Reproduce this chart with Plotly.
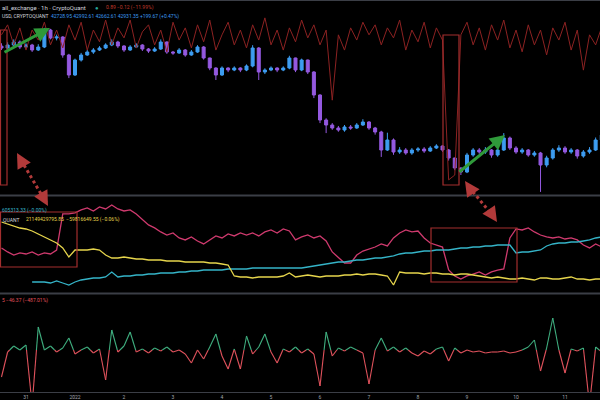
import pandas as pd
import plotly.graph_objects as go

# ---------------- data (3-hourly samples, 2021-12-30 12:00 .. 2022-01-11 18:00) ----------------
start_time = "2021-12-30 12:00"
n_points = 99

btc_close = [47004, 47160, 47316, 47056, 47160, 46900, 47056, 47940, 47524, 47576,
             46640, 45600, 46380, 46640, 46796, 46900, 47004, 47160, 47316, 47108,
             46900, 47056, 47160, 46952, 46848, 46952, 47316, 46796, 46744, 46900,
             46640, 46796, 47056, 46484, 45964, 45600, 45964, 45860, 45964, 45860,
             46068, 47004, 45756, 45860, 45964, 45860, 45964, 46484, 45860, 46380,
             45756, 44560, 43260, 43000, 42844, 42740, 42896, 42844, 43000, 43156,
             42844, 42636, 41700, 42220, 41596, 41700, 41544, 41700, 41752, 41648,
             41804, 41908, 41700, 41284, 40764, 40556, 41440, 41700, 41596, 41700,
             41440, 41700, 42324, 41804, 41596, 41700, 41440, 41544, 40920, 41284,
             41700, 41804, 41596, 41700, 41388, 41596, 41700, 42220, 42480]
btc_first_open = 47100
btc_high = [47250, 47300, 47450, 47400, 47250, 47220, 47200, 48050, 48000, 47700,
            47620, 46700, 46450, 46750, 46900, 47000, 47100, 47250, 47450, 47380,
            47150, 47150, 47250, 47200, 47000, 47050, 47450, 47350, 46850, 47000,
            46950, 46900, 47150, 47100, 46500, 46000, 46050, 46000, 46050, 46000,
            46150, 47150, 47050, 45950, 46050, 46000, 46050, 46600, 46500, 46450,
            46400, 45800, 44600, 43350, 43100, 42950, 43000, 43000, 43100, 43300,
            43200, 42900, 42700, 42600, 42300, 41850, 41800, 41800, 41850, 41850,
            41900, 42000, 41950, 41750, 41300, 40800, 41550, 41800, 41800, 41850,
            41750, 41800, 42580, 42400, 41900, 41800, 41750, 41650, 41600, 41400,
            41800, 41950, 41900, 41800, 41750, 41700, 41850, 42350, 42600]
btc_low = [46900, 46950, 47100, 46950, 46980, 46800, 46850, 47000, 47450, 47400,
           46500, 45440, 45550, 46300, 46600, 46700, 46850, 46950, 47100, 47000,
           46800, 46850, 47000, 46850, 46750, 46800, 46900, 46700, 46650, 46700,
           46550, 46600, 46750, 46400, 45850, 45340, 45550, 45750, 45800, 45750,
           45800, 46000, 45340, 45650, 45800, 45750, 45800, 45900, 45750, 45800,
           45650, 44400, 43100, 42580, 42750, 42650, 42650, 42750, 42800, 42950,
           42750, 42500, 41340, 41650, 41450, 41500, 41450, 41450, 41600, 41550,
           41600, 41750, 41600, 41150, 40650, 40400, 40500, 41350, 41500, 41500,
           41300, 41350, 41650, 41700, 41500, 41500, 41350, 41350, 39520, 40800,
           41200, 41600, 41500, 41500, 41250, 41300, 41500, 41650, 42150]

exchange_ratio = [0.70, 0.93, 0.47, 0.86, 0.35, 0.81, 0.58, 0.99, 0.47, 0.81,
                  0.40, 0.93, 0.58, 0.99, 0.35, 0.81, 0.54, 1.04, 0.47, 0.86,
                  0.63, 1.04, 0.40, 0.77, 0.93, 0.47, 0.81, 0.31, 0.99, 0.58,
                  0.86, 0.40, 0.93, 0.54, 1.04, 0.35, 0.70, 0.99, 0.47, 0.81,
                  0.40, 0.93, 0.58, 1.09, 0.47, 0.81, 0.35, 0.86, 0.54, 1.04,
                  0.63, 0.93, 0.47, 0.81, -0.80, 0.70, 0.35, 0.86, 0.58, 0.99,
                  0.70, 0.93, 0.47, 0.86, 0.63, 1.04, 0.35, 0.81, 0.54, 0.99,
                  0.40, 0.86, 0.58, -2.63, -2.52, 0.70, 0.99, 0.47, 0.86, 0.35,
                  0.93, 0.58, 1.04, 0.40, 0.81, 0.31, 0.93, 0.47, 0.81, 0.24,
                  0.86, 0.58, 0.99, 0.35, 0.81, -0.11, 0.70, 0.47, 0.88]

pink_index = [45.2, 40.9, 37.6, 39.8, 38.7, 40.9, 37.6, 39.8, 38.7, 43.0,
              81.7, 81.7, 82.8, 86.0, 88.2, 84.9, 89.2, 87.1, 91.4, 87.1,
              84.9, 86.0, 81.7, 75.3, 69.9, 66.7, 62.4, 59.1, 61.3, 55.9,
              53.8, 57.0, 52.7, 49.5, 53.8, 58.1, 55.9, 60.2, 58.1, 61.3,
              59.1, 61.3, 58.1, 62.4, 64.5, 61.3, 65.6, 63.4, 53.8, 57.0,
              59.1, 55.9, 58.1, 52.7, 40.9, 34.4, 29.0, 29.0, 37.6, 41.9,
              44.1, 46.2, 49.5, 47.3, 55.9, 61.3, 64.5, 62.4, 63.4, 55.9,
              50.5, 48.4, 46.2, 21.5, 15.1, 11.8, 15.1, 17.2, 19.4, 16.1,
              19.4, 21.5, 22.6, 55.9, 65.6, 64.5, 66.7, 62.4, 59.1, 57.0,
              55.9, 57.0, 54.8, 55.9, 53.8, 48.4, 45.2, 49.5, 46.2]

cyan_reserve = [None, None, None, None, None, 576280, 576280, 576280, 575630, 576920,
                575630, 574340, 576280, 577570, 578210, 578860, 578860, 579500, 582730, 579500,
                580150, 580150, 580790, 580790, 581440, 581440, 582080, 582080, 582080, 582730,
                582730, 583370, 583370, 584020, 584020, 584020, 584020, 584660, 584660, 584660,
                584660, 585310, 585310, 585310, 585310, 585310, 585310, 585310, 585310, 585310,
                585950, 586600, 587240, 587890, 588530, 589180, 589180, 589820, 590470, 590470,
                591110, 591760, 591760, 592400, 593050, 594340, 594980, 594980, 595630, 596270,
                596270, 596920, 596920, 596920, 597560, 598210, 598210, 598850, 598850, 599500,
                599500, 600140, 600140, 600140, 594980, 595630, 595630, 596270, 596920, 599500,
                600790, 601430, 601430, 602080, 602080, 602720, 603370, 604660, 605310]

yellow_bn = [22.289, 22.249, 22.209, 22.169, 22.149, 22.109, 22.049, 21.989, 21.929, 21.869,
             21.769, 21.589, 21.729, 21.729, 21.729, 21.749, 21.729, 21.629, 21.569, 21.569,
             21.589, 21.569, 21.549, 21.549, 21.529, 21.529, 21.529, 21.509, 21.509, 21.509,
             21.489, 21.489, 21.489, 21.489, 21.469, 21.469, 21.449, 21.429, 21.209, 21.189,
             21.189, 21.169, 21.189, 21.189, 21.189, 21.189, 21.209, 21.269, 21.189, 21.209,
             21.229, 21.209, 21.189, 21.209, 21.209, 21.209, 21.229, 21.229, 21.249, 21.229,
             21.249, 21.249, 21.229, 21.209, 21.029, 21.289, 21.269, 21.269, 21.269, 21.249,
             21.269, 21.269, 21.249, 21.249, 21.229, 21.249, 21.249, 21.229, 21.209, 21.189,
             21.169, 21.189, 21.169, 21.149, 21.149, 21.169, 21.149, 21.129, 21.169, 21.169,
             21.149, 21.149, 21.169, 21.189, 21.149, 21.149, 21.129, 21.149, 21.149]

oscillator = [-108, -8, 16, 0, 20, -220, 92, 0, 16, -8,
              8, 48, -16, 0, 12, -12, 4, -120, 80, -8,
              16, 72, -8, 4, -12, 8, -4, 12, -8, 0,
              -16, -52, 0, -36, 12, 64, -24, -76, 4, -76,
              56, -16, 12, 64, -8, -52, 4, -8, 12, -12,
              4, -16, -144, 72, -24, 8, -4, 12, 0, -12,
              -136, 0, 48, -4, 12, -8, 8, -12, -24, -4,
              -16, 4, 12, -44, 8, -12, 0, -8, -4, -12,
              -8, -8, -4, -12, -8, 0, 12, 40, -84, 8,
              128, 0, -92, 4, -4, 8, -220, 12, -8]

tick_dates = ["2021-12-31", "2022-01-01", "2022-01-02", "2022-01-03", "2022-01-04", "2022-01-05",
              "2022-01-06", "2022-01-07", "2022-01-08", "2022-01-09", "2022-01-10", "2022-01-11"]
tick_labels = ["31", "2022", "2", "3", "4", "5", "6", "7", "8", "9", "10", "11"]

# ---------------- build ----------------
times = pd.date_range(start_time, periods=n_points, freq="3h")
btc_open = [btc_first_open] + btc_close[:-1]

W, H = 600, 392  # plot area in pixels


def PX(p):
    return p / W


def PY(p):
    return 1 - p / H


BLUE = "#3d9cf0"
PURPLE = "#9459e0"
DARKRED = "#8c2222"
PINK = "#cf3a6e"
CYAN = "#35b4c8"
YELLOW = "#e6d54c"
GREEN_OSC = "#3fae7f"
RED_OSC = "#e0525c"
BOX = "#a32e2e"

fig = go.Figure()

fig.add_trace(go.Scatter(x=times, y=exchange_ratio, mode="lines",
                         line=dict(color=DARKRED, width=1), xaxis="x2", yaxis="y4",
                         hoverinfo="skip"))
fig.add_trace(go.Candlestick(x=times, open=btc_open, high=btc_high, low=btc_low, close=btc_close,
                             increasing=dict(line=dict(color=BLUE, width=1), fillcolor=BLUE),
                             decreasing=dict(line=dict(color=PURPLE, width=1), fillcolor=PURPLE),
                             whiskerwidth=0, xaxis="x2", yaxis="y2"))

fig.add_trace(go.Scatter(x=times, y=pink_index, mode="lines", line=dict(color=PINK, width=1.3),
                         xaxis="x3", yaxis="y3"))
fig.add_trace(go.Scatter(x=times, y=cyan_reserve, mode="lines", line=dict(color=CYAN, width=1.3),
                         xaxis="x3", yaxis="y5"))
fig.add_trace(go.Scatter(x=times, y=yellow_bn, mode="lines", line=dict(color=YELLOW, width=1.3),
                         xaxis="x3", yaxis="y6"))

# oscillator coloured by sign
gx, gy, rx, ry = [], [], [], []
for k in range(len(oscillator) - 1):
    t0, t1 = times[k], times[k + 1]
    v0, v1 = oscillator[k], oscillator[k + 1]
    if v0 >= 0 and v1 >= 0:
        gx += [t0, t1, None]; gy += [v0, v1, None]
    elif v0 <= 0 and v1 <= 0:
        rx += [t0, t1, None]; ry += [v0, v1, None]
    else:
        tc = t0 + (t1 - t0) * (v0 / (v0 - v1))
        if v0 > 0:
            gx += [t0, tc, None]; gy += [v0, 0, None]
            rx += [tc, t1, None]; ry += [0, v1, None]
        else:
            rx += [t0, tc, None]; ry += [v0, 0, None]
            gx += [tc, t1, None]; gy += [0, v1, None]
fig.add_trace(go.Scatter(x=rx, y=ry, mode="lines", line=dict(color=RED_OSC, width=1.1),
                         xaxis="x", yaxis="y", connectgaps=False))
fig.add_trace(go.Scatter(x=gx, y=gy, mode="lines", line=dict(color=GREEN_OSC, width=1.1),
                         xaxis="x", yaxis="y", connectgaps=False))

x_range = ["2021-12-30 11:16", "2022-01-11 17:08"]
noax = dict(showgrid=False, zeroline=False, visible=False)

fig.update_layout(
    width=600, height=400, margin=dict(l=0, r=0, t=0, b=8, pad=0, autoexpand=False),
    paper_bgcolor="#000000", plot_bgcolor="#000000", showlegend=False,
    font=dict(family="Roboto, Arial, sans-serif"),
    xaxis=dict(domain=[0, 1], anchor="y", range=x_range, type="date",
               tickvals=tick_dates, ticktext=tick_labels, ticks="", ticklabelstandoff=0,
               tickfont=dict(size=5, color="#a3a6ae"), showgrid=False, zeroline=False,
               showline=True, linecolor="#3b3e46", linewidth=1, automargin=False),
    xaxis2=dict(matches="x", anchor="y2", showticklabels=False, showgrid=False, zeroline=False,
                rangeslider=dict(visible=False)),
    xaxis3=dict(matches="x", anchor="y3", showticklabels=False, showgrid=False, zeroline=False),
    yaxis=dict(domain=[0, 1 - 294 / H], range=[-168, 224], **noax),
    yaxis2=dict(domain=[1 - 195 / H, 1], range=[39360, 49500], **noax),
    yaxis3=dict(domain=[1 - 293 / H, 1 - 196 / H], range=[-3.2, 101], **noax),
    yaxis4=dict(overlaying="y2", anchor="x2", range=[-2.977, 1.5], **noax),
    yaxis5=dict(overlaying="y3", anchor="x3", range=[569180, 631745], **noax),
    yaxis6=dict(overlaying="y3", anchor="x3", range=[20.869, 22.809], **noax),
)

shapes = []
# pane separators
for yp, w in [(0.5, 1), (195.5, 2), (293.5, 2)]:
    shapes.append(dict(type="line", xref="paper", yref="paper", x0=0, x1=1, y0=PY(yp), y1=PY(yp),
                       line=dict(color="#3b3e46", width=w)))
# highlight boxes
for (x0, y0, x1, y1) in [(0.5, 30, 7, 185), (443, 35, 459, 185), (0.5, 212, 77, 267), (431, 228, 517, 282)]:
    shapes.append(dict(type="rect", xref="paper", yref="paper", x0=PX(x0), x1=PX(x1),
                       y0=PY(y1), y1=PY(y0), line=dict(color=BOX, width=1.2)))
# dotted connectors
for (a, b) in [((21, 160), (44, 199)), ((469, 187), (493, 216))]:
    shapes.append(dict(type="line", xref="paper", yref="paper", x0=PX(a[0]), y0=PY(a[1]),
                       x1=PX(b[0]), y1=PY(b[1]), line=dict(color="#b23a3a", width=3, dash="3px,3px")))
fig.update_layout(shapes=shapes)

ann = []
# green arrows
for head, tail in [((50, 28), (3, 53)), ((505, 135), (458, 173))]:
    ann.append(dict(xref="paper", yref="paper", x=PX(head[0]), y=PY(head[1]),
                    ax=tail[0] - head[0], ay=tail[1] - head[1], text="", showarrow=True,
                    arrowhead=2, arrowsize=1, arrowwidth=3, arrowcolor="#2f9a3a", standoff=0))
# red arrow heads of the dotted connectors
for tip, back in [((17, 153), (23, 164)), ((48, 206), (42, 195)), ((465, 181), (471, 190)), ((497, 222), (491, 213))]:
    ann.append(dict(xref="paper", yref="paper", x=PX(tip[0]), y=PY(tip[1]),
                    ax=back[0] - tip[0], ay=back[1] - tip[1], text="", showarrow=True,
                    arrowhead=2, arrowsize=1, arrowwidth=3, arrowcolor="#b23a3a", standoff=0))


def label(px_x, px_y, txt, color, size=5):
    ann.append(dict(xref="paper", yref="paper", x=PX(px_x), y=PY(px_y), text=txt, showarrow=False,
                    xanchor="left", yanchor="middle", font=dict(size=size, color=color)))


label(0, 7, "all_exchange · 1h · CryptoQuant", "#d1d4dc", 6)
label(93, 7, "●", "#26a69a", 6)
label(104, 7, "0.89 −0.12 (−11.99%)", "#c0392b", 5)
label(0, 16, "USD, CRYPTOQUANT", "#d1d4dc", 5)
label(49, 16, "42728.95 42992.61 42662.61 42931.35 +199.67 (+0.47%)", BLUE, 5)
label(0, 211, "605313.33 (−0.00%)", CYAN, 5)
label(1, 220, "QUANT", "#d1d4dc", 5)
label(24, 220, "21149429795.85  −59816649.55 (−0.06%)", YELLOW, 5)
label(0, 300, "5 −46.37 (−487.01%)", RED_OSC, 5)
fig.update_layout(annotations=ann)

fig.write_html("out.html", config={"displayModeBar": False},
               post_script="document.body.style.margin='0px';document.body.style.background='#000';")
